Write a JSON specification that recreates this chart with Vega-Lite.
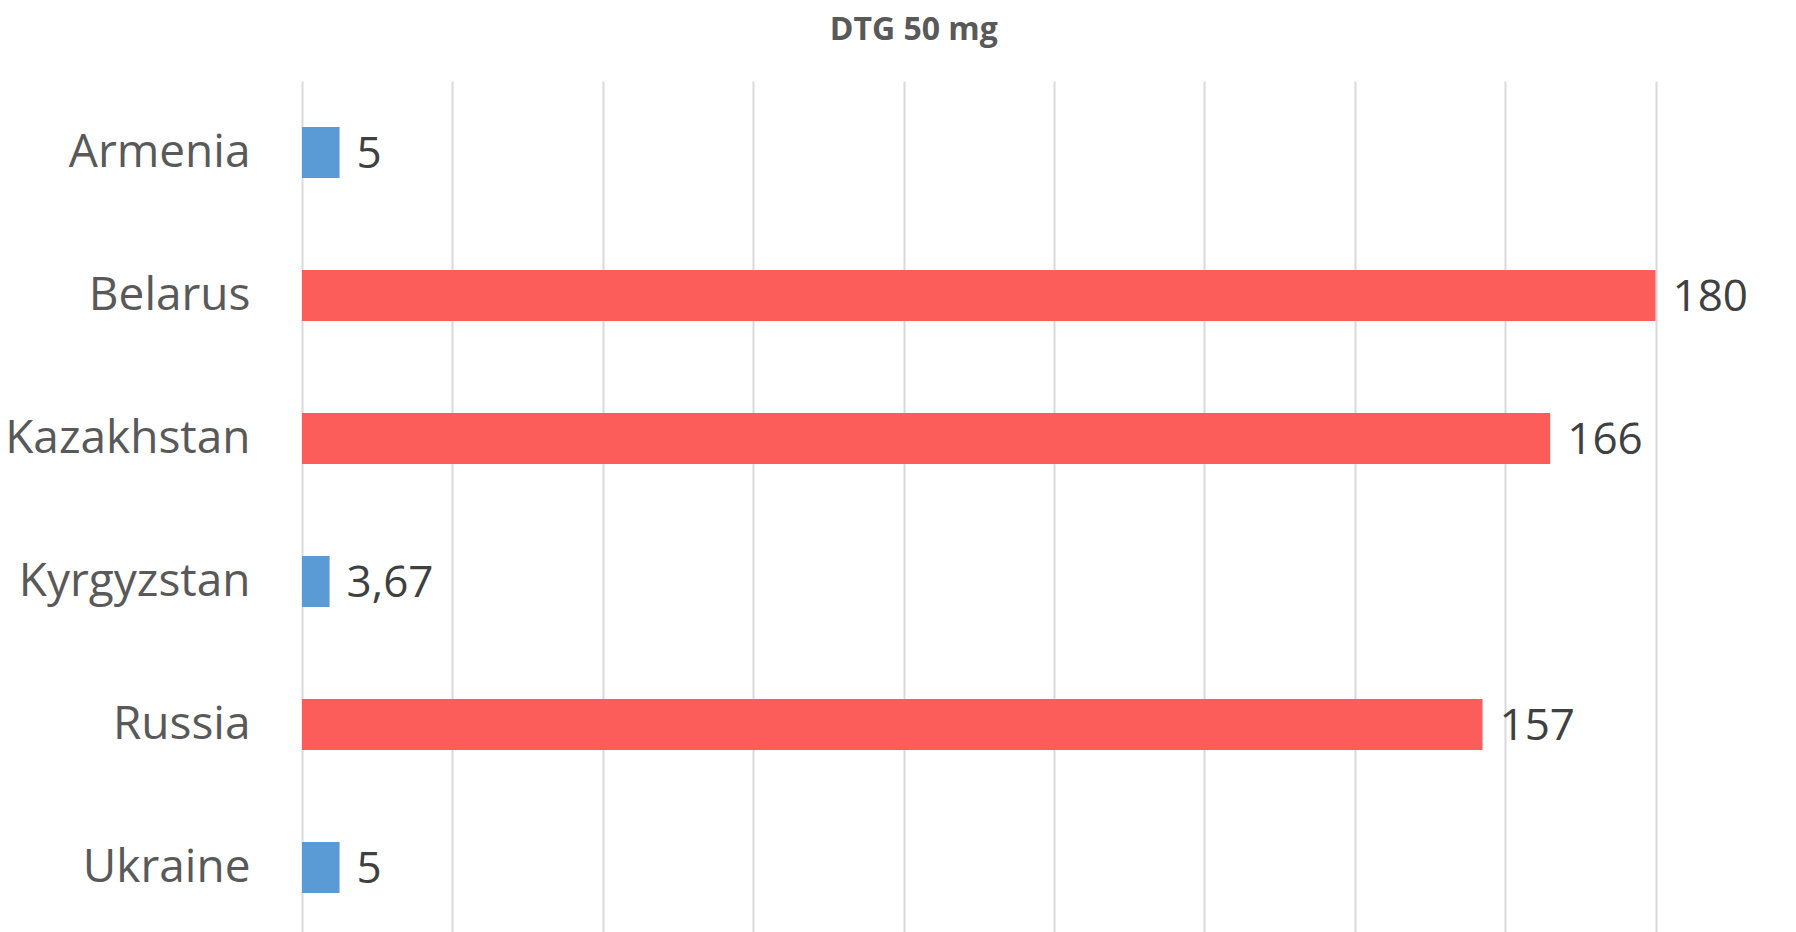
{
  "$schema": "https://vega.github.io/schema/vega-lite/v6.json",
  "autosize": {"type": "none"},
  "width": 1353.5,
  "height": 858,
  "padding": {"left": 302, "top": 81, "right": 140, "bottom": 0},
  "background": "white",
  "config": {
    "font": "Open Sans",
    "view": {"stroke": null},
    "locale": {"number": {"decimal": ",", "thousands": " ", "grouping": [3], "currency": ["", " €"]}}
  },
  "title": {
    "text": "DTG 50 mg",
    "font": "Open Sans",
    "fontSize": 32,
    "fontWeight": "bold",
    "color": "#595959",
    "anchor": "middle",
    "frame": "group",
    "baseline": "alphabetic",
    "offset": 9,
    "dx": -65
  },
  "data": {
    "values": [
      {"country": "Armenia", "value": 5},
      {"country": "Belarus", "value": 180},
      {"country": "Kazakhstan", "value": 166},
      {"country": "Kyrgyzstan", "value": 3.67},
      {"country": "Russia", "value": 157},
      {"country": "Ukraine", "value": 5}
    ]
  },
  "encoding": {
    "y": {
      "field": "country",
      "type": "nominal",
      "sort": null,
      "scale": {"paddingInner": 0.643, "paddingOuter": 0.3215},
      "axis": {
        "title": null,
        "domain": false,
        "ticks": false,
        "labelFont": "Open Sans",
        "labelFontSize": 46,
        "labelColor": "#595959",
        "labelPadding": 52,
        "labelLimit": 0
      }
    },
    "x": {
      "field": "value",
      "type": "quantitative",
      "scale": {"domain": [0, 180], "nice": false},
      "axis": {
        "title": null,
        "labels": false,
        "ticks": false,
        "domain": false,
        "grid": true,
        "values": [0, 20, 40, 60, 80, 100, 120, 140, 160, 180],
        "gridColor": "#d9d9d9",
        "gridWidth": 2
      }
    }
  },
  "layer": [
    {
      "mark": {"type": "bar"},
      "encoding": {
        "color": {
          "condition": {"test": "datum.value > 50", "value": "#FD5D5A"},
          "value": "#5B9BD5"
        }
      }
    },
    {
      "mark": {
        "type": "text",
        "align": "left",
        "baseline": "middle",
        "dx": 17,
        "dy": 2,
        "font": "Open Sans",
        "fontSize": 44,
        "color": "#404040"
      },
      "encoding": {
        "text": {"field": "value", "type": "quantitative", "format": "~g"}
      }
    }
  ]
}
